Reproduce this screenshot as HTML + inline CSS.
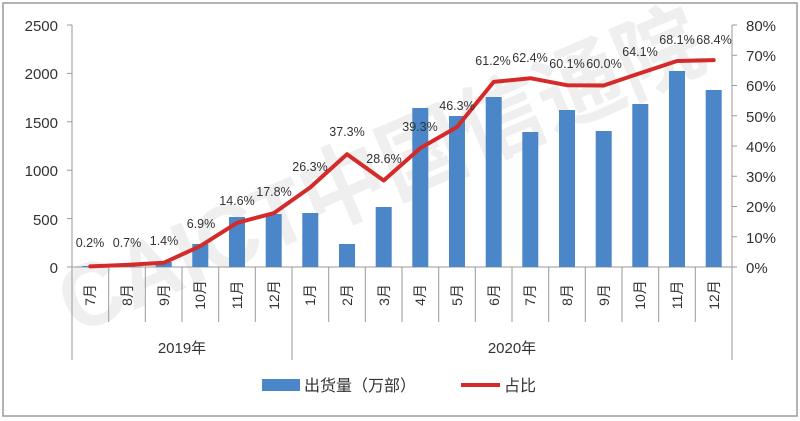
<!DOCTYPE html>
<html><head><meta charset="utf-8"><style>
html,body{margin:0;padding:0;background:#fff;}
svg{display:block;font-family:"Liberation Sans","Noto Sans CJK SC",sans-serif;}
</style></head><body>
<svg width="800" height="421" viewBox="0 0 800 421" xmlns="http://www.w3.org/2000/svg">
<rect x="3" y="3" width="794" height="413" fill="#fff" stroke="#9a9a9a" stroke-width="1.5"/>
<!-- watermark -->
<g opacity="0.09" fill="#555" font-weight="bold" font-size="90" transform="rotate(-23 75 335)">
<text x="75" y="335" textLength="690" lengthAdjust="spacingAndGlyphs">CAICT中国信通院</text></g>
<!-- axes -->
<g stroke="#9a9a9a" stroke-width="1" fill="none">
<line x1="72" y1="25" x2="72" y2="360"/>
<line x1="732" y1="25" x2="732" y2="360"/>
<line x1="72" y1="267" x2="732" y2="267"/>
<line x1="292" y1="267" x2="292" y2="360"/>
<line x1="67" y1="25" x2="72" y2="25"/><line x1="67" y1="73.4" x2="72" y2="73.4"/><line x1="67" y1="121.8" x2="72" y2="121.8"/><line x1="67" y1="170.2" x2="72" y2="170.2"/><line x1="67" y1="218.6" x2="72" y2="218.6"/><line x1="67" y1="267" x2="72" y2="267"/>
<line x1="732" y1="25" x2="737" y2="25"/><line x1="732" y1="55.25" x2="737" y2="55.25"/><line x1="732" y1="85.5" x2="737" y2="85.5"/><line x1="732" y1="115.75" x2="737" y2="115.75"/><line x1="732" y1="146" x2="737" y2="146"/><line x1="732" y1="176.25" x2="737" y2="176.25"/><line x1="732" y1="206.5" x2="737" y2="206.5"/><line x1="732" y1="236.75" x2="737" y2="236.75"/><line x1="732" y1="267" x2="737" y2="267"/>
<line x1="108.7" y1="267" x2="108.7" y2="322"/><line x1="145.3" y1="267" x2="145.3" y2="322"/><line x1="182" y1="267" x2="182" y2="322"/><line x1="218.7" y1="267" x2="218.7" y2="322"/><line x1="255.3" y1="267" x2="255.3" y2="322"/>
<line x1="328.7" y1="267" x2="328.7" y2="322"/><line x1="365.3" y1="267" x2="365.3" y2="322"/><line x1="402" y1="267" x2="402" y2="322"/><line x1="438.7" y1="267" x2="438.7" y2="322"/><line x1="475.3" y1="267" x2="475.3" y2="322"/><line x1="512" y1="267" x2="512" y2="322"/><line x1="548.7" y1="267" x2="548.7" y2="322"/><line x1="585.3" y1="267" x2="585.3" y2="322"/><line x1="622" y1="267" x2="622" y2="322"/><line x1="658.7" y1="267" x2="658.7" y2="322"/><line x1="695.3" y1="267" x2="695.3" y2="322"/>
</g>
<g font-size="15" fill="#333" text-anchor="end">
<text x="58" y="31">2500</text><text x="58" y="79">2000</text><text x="58" y="128">1500</text><text x="58" y="176">1000</text><text x="58" y="225">500</text><text x="58" y="273">0</text>
</g>
<g font-size="15" fill="#333">
<text x="746" y="31">80%</text><text x="746" y="61">70%</text><text x="746" y="91">60%</text><text x="746" y="122">50%</text><text x="746" y="152">40%</text><text x="746" y="182">30%</text><text x="746" y="212">20%</text><text x="746" y="243">10%</text><text x="746" y="273">0%</text>
</g>
<!-- bars -->
<g fill="#4a86c8">
<rect x="82.3" y="266" width="16" height="1"/>
<rect x="119" y="265.5" width="16" height="1.5"/>
<rect x="155.7" y="262" width="16" height="5"/>
<rect x="192.3" y="244" width="16" height="23"/>
<rect x="229" y="217" width="16" height="50"/>
<rect x="265.7" y="214" width="16" height="53"/>
<rect x="302.3" y="213" width="16" height="54"/>
<rect x="339" y="244" width="16" height="23"/>
<rect x="375.7" y="207" width="16" height="60"/>
<rect x="412.3" y="108" width="16" height="159"/>
<rect x="449" y="116" width="16" height="151"/>
<rect x="485.7" y="97" width="16" height="170"/>
<rect x="522.3" y="132" width="16" height="135"/>
<rect x="559" y="110" width="16" height="157"/>
<rect x="595.7" y="131" width="16" height="136"/>
<rect x="632.3" y="104" width="16" height="163"/>
<rect x="669" y="71" width="16" height="196"/>
<rect x="705.7" y="90" width="16" height="177"/>
</g>
<!-- line -->
<polyline fill="none" stroke="#d42a2a" stroke-width="4" stroke-linejoin="round" stroke-linecap="round"
points="90.3,266.4 127,264.9 163.7,262.8 200.3,246.1 237,222.8 273.7,213.2 310.3,187.4 347,154.2 383.7,180.5 420.3,148.1 457,127 493.7,81.9 530.3,78.2 567,85.2 603.7,85.5 640.3,73.1 677,61 713.7,60.1"/>
<g font-size="12.5" fill="#333" text-anchor="middle">
<text x="90" y="247">0.2%</text><text x="127" y="247">0.7%</text><text x="164" y="245">1.4%</text>
<text x="201" y="228">6.9%</text><text x="237" y="205">14.6%</text><text x="274" y="196">17.8%</text>
<text x="310" y="171">26.3%</text><text x="347" y="136">37.3%</text><text x="384" y="163">28.6%</text>
<text x="420" y="131">39.3%</text><text x="457" y="110">46.3%</text><text x="493" y="65">61.2%</text>
<text x="530" y="62">62.4%</text><text x="567" y="68">60.1%</text><text x="604" y="68">60.0%</text>
<text x="640" y="56">64.1%</text><text x="677" y="44">68.1%</text><text x="714" y="44">68.4%</text>
</g>
<!-- x labels rotated -->
<g font-size="14" fill="#333" text-anchor="middle">
<text transform="translate(95,295) rotate(-90)">7月</text>
<text transform="translate(132,295) rotate(-90)">8月</text>
<text transform="translate(169,295) rotate(-90)">9月</text>
<text transform="translate(205,295) rotate(-90)">10月</text>
<text transform="translate(242,295) rotate(-90)">11月</text>
<text transform="translate(279,295) rotate(-90)">12月</text>
<text transform="translate(315,295) rotate(-90)">1月</text>
<text transform="translate(352,295) rotate(-90)">2月</text>
<text transform="translate(389,295) rotate(-90)">3月</text>
<text transform="translate(425,295) rotate(-90)">4月</text>
<text transform="translate(462,295) rotate(-90)">5月</text>
<text transform="translate(499,295) rotate(-90)">6月</text>
<text transform="translate(535,295) rotate(-90)">7月</text>
<text transform="translate(572,295) rotate(-90)">8月</text>
<text transform="translate(609,295) rotate(-90)">9月</text>
<text transform="translate(645,295) rotate(-90)">10月</text>
<text transform="translate(682,295) rotate(-90)">11月</text>
<text transform="translate(719,295) rotate(-90)">12月</text>
</g>
<g font-size="15" fill="#333" text-anchor="middle">
<text x="182" y="353">2019年</text><text x="512" y="353">2020年</text>
</g>
<!-- legend -->
<rect x="262" y="379" width="38" height="12" fill="#4a86c8"/>
<text x="304" y="391" font-size="16" fill="#333">出货量（万部）</text>
<line x1="461" y1="385" x2="500" y2="385" stroke="#d42a2a" stroke-width="4"/>
<text x="504" y="391" font-size="16" fill="#333">占比</text>
</svg>
</body></html>
